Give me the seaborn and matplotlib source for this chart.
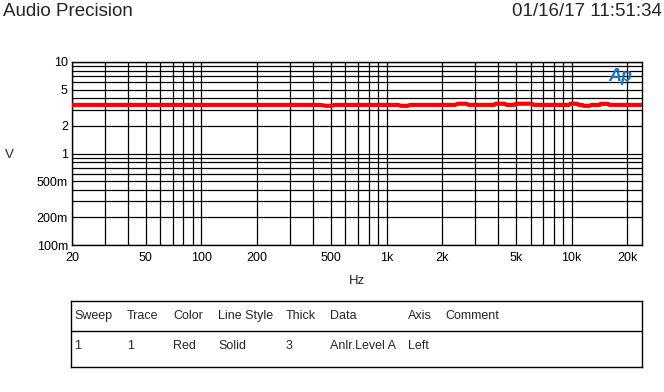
import matplotlib
matplotlib.use("Agg")
import matplotlib.pyplot as plt
import matplotlib.ticker as mticker
import seaborn as sns
import pandas as pd

# ---- data ----
freq_hz = [20, 440, 470, 500, 530, 1150, 1200, 1300, 1350, 2350, 2430, 2700, 2780,
           3800, 3900, 4350, 4450, 4900, 5000, 6100, 6250, 9700, 9850, 10700, 10900,
           11400, 11600, 12500, 12800, 14200, 14400, 15700, 16000, 24000]
level_v = [3.40, 3.40, 3.32, 3.32, 3.40, 3.40, 3.32, 3.32, 3.40, 3.40, 3.50, 3.50, 3.40,
           3.40, 3.50, 3.50, 3.40, 3.40, 3.50, 3.50, 3.40, 3.40, 3.50, 3.50, 3.40,
           3.40, 3.32, 3.32, 3.40, 3.40, 3.49, 3.49, 3.40, 3.40]

x_major = [20, 50, 100, 200, 500, 1000, 2000, 5000, 10000, 20000]
x_labels = ["20", "50", "100", "200", "500", "1k", "2k", "5k", "10k", "20k"]
y_major = [0.1, 0.2, 0.5, 1, 2, 5, 10]
y_labels = ["100m", "200m", "500m", "1", "2", "5", "10"]

table_header = ["Sweep", "Trace", "Color", "Line Style", "Thick", "Data", "Axis", "Comment"]
table_row = ["1", "1", "Red", "Solid", "3", "Anlr.Level A", "Left", ""]

title_left = "Audio Precision"
title_right = "01/16/17 11:51:34"

# ---- style ----
sns.set_style("white")
plt.rcParams["font.family"] = ["Liberation Sans", "DejaVu Sans"]

W, H = 664, 392
fig = plt.figure(figsize=(W / 100, H / 100), dpi=100)

def px_rect(x0, y0, x1, y1):
    return [x0 / W, 1 - y1 / H, (x1 - x0) / W, (y1 - y0) / H]

ax = fig.add_axes(px_rect(72, 62, 642, 245))

df = pd.DataFrame({"Hz": freq_hz, "V": level_v})
sns.lineplot(data=df, x="Hz", y="V", ax=ax, color="#ff0000", linewidth=3,
             estimator=None, sort=False, zorder=5)

ax.set_xscale("log")
ax.set_yscale("log")
ax.set_xlim(20, 24000)
ax.set_ylim(0.1, 10)

# grid positions
x_minor = [m * 10 ** e for e in range(1, 5) for m in range(1, 10)
           if 20 <= m * 10 ** e <= 24000 and m * 10 ** e not in x_major]
y_minor = [m * 10 ** e for e in range(-1, 1) for m in range(1, 10)
           if m * 10 ** e not in y_major]
y_minor = [round(v, 3) for v in y_minor if 0.1 < v < 10]

ax.xaxis.set_major_locator(mticker.FixedLocator(x_major))
ax.xaxis.set_major_formatter(mticker.FixedFormatter(x_labels))
ax.xaxis.set_minor_locator(mticker.FixedLocator(x_minor))
ax.xaxis.set_minor_formatter(mticker.NullFormatter())
ax.yaxis.set_major_locator(mticker.FixedLocator(y_major))
ax.yaxis.set_major_formatter(mticker.FixedFormatter(y_labels))
ax.yaxis.set_minor_locator(mticker.FixedLocator(y_minor))
ax.yaxis.set_minor_formatter(mticker.NullFormatter())

ax.grid(True, which="both", color="black", linewidth=0.9)
ax.tick_params(which="both", length=0, labelsize=9, colors="black")
ax.tick_params(axis="y", pad=3)
ax.tick_params(axis="x", pad=5)
for s in ax.spines.values():
    s.set_color("black")
    s.set_linewidth(1.0)
    s.set_visible(True)

ax.set_xlabel("Hz", fontsize=9.5, labelpad=8)
ax.set_ylabel("V", fontsize=9.5, rotation=0, va="center", ha="center")
ax.yaxis.set_label_coords(-63 / 570, 0.49)

# AP logo
ax.text(0.962, 0.92, "Ap", transform=ax.transAxes, ha="center", va="center",
        fontsize=13, fontstyle="italic", fontweight="bold", color="#1a78b8", zorder=6)

# titles
fig.text(3 / W, 1 - 12 / H, title_left, ha="left", va="center", fontsize=13.5)
fig.text(662 / W, 1 - 12 / H, title_right, ha="right", va="center", fontsize=13.5)

# legend table
tax = fig.add_axes(px_rect(71, 301, 642, 367))
tax.set_xlim(71, 642)
tax.set_ylim(367, 301)
tax.set_xticks([])
tax.set_yticks([])
for s in tax.spines.values():
    s.set_color("black")
    s.set_linewidth(1.0)
    s.set_visible(True)
tax.axhline(331, color="black", linewidth=1.0)
col_x = [74, 127, 173, 218, 286, 330, 408, 445]
for cx, h, r in zip(col_x, table_header, table_row):
    tax.text(cx, 316, h, ha="left", va="center", fontsize=9)
    tax.text(cx, 346, r, ha="left", va="center", fontsize=9)

fig.savefig("out.png", dpi=100)
